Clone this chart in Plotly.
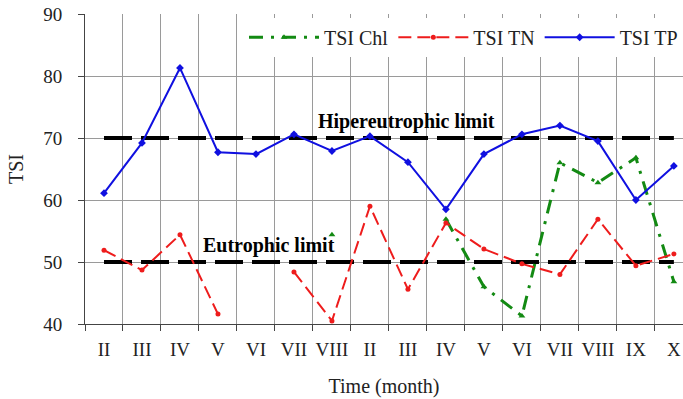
import plotly.graph_objects as go

months = ["II", "III", "IV", "V", "VI", "VII", "VIII",
          "II", "III", "IV", "V", "VI", "VII", "VIII", "IX", "X"]
tsi_chl = [None, None, None, None, None, None, 54.4,
           None, None, 56.9, 46.0, 41.3, 66.0, 62.8, 66.8, 46.8]
tsi_tn = [51.9, 48.7, 54.4, 41.6, None, 48.4, 40.5,
          59.0, 45.6, 56.3, 52.1, 49.7, 48.0, 56.9, 49.4, 51.3]
tsi_tp = [61.1, 69.2, 81.3, 67.7, 67.4, 70.6, 67.9,
          70.3, 66.1, 58.5, 67.4, 70.6, 72.0, 69.5, 60.0, 65.5]
hiper_limit = 70
eutro_limit = 50
y_ticks = [40, 50, 60, 70, 80, 90]

xi = list(range(len(months)))
bounds = [i - 0.5 for i in xi]
FONT = "Liberation Serif"

fig = go.Figure()

# limit lines
for val in (hiper_limit, eutro_limit):
    fig.add_trace(go.Scatter(
        x=[xi[0], xi[-1]], y=[val, val], mode="lines",
        line=dict(color="black", width=4, dash="28px,9px"),
        showlegend=False, hoverinfo="skip"))

fig.add_trace(go.Scatter(
    x=xi, y=tsi_chl, name="TSI Chl", mode="lines+markers",
    line=dict(color="#138a13", width=3, dash="14px,8px,3px,8px"),
    marker=dict(symbol="triangle-up", size=6, color="#138a13")))
fig.add_trace(go.Scatter(
    x=xi, y=tsi_tn, name="TSI TN", mode="lines+markers",
    line=dict(color="#ee1c1c", width=2, dash="13px,6px"),
    marker=dict(symbol="circle", size=5, color="#ee1c1c")))
fig.add_trace(go.Scatter(
    x=xi, y=tsi_tp, name="TSI TP", mode="lines+markers",
    line=dict(color="#1010e0", width=2),
    marker=dict(symbol="diamond", size=6, color="#1010e0")))

fig.add_annotation(x=7.97, y=hiper_limit + 2.6, text="<b>Hipereutrophic limit</b>",
                   showarrow=False, font=dict(family=FONT, size=20, color="black"))
fig.add_annotation(x=4.34, y=eutro_limit + 2.6, text="<b>Eutrophic limit</b>",
                   showarrow=False, font=dict(family=FONT, size=20, color="black"))

fig.update_layout(
    width=683, height=399,
    margin=dict(l=85, r=0, t=14, b=75),
    paper_bgcolor="white", plot_bgcolor="white",
    font=dict(family=FONT, size=19, color="#222"),
    legend=dict(orientation="h", x=1, xanchor="right", y=0.925, yanchor="middle",
                bgcolor="white", font=dict(family=FONT, size=20, color="#222"),
                itemwidth=70, tracegroupgap=0),
    xaxis=dict(
        range=[-0.5, 15.24], tickmode="array", tickvals=xi, ticktext=months,
        showgrid=False, ticks="", showline=True, linecolor="#444", linewidth=1,
        zeroline=False, ticklabelstandoff=8,
        title=dict(text="Time (month)", standoff=20,
                   font=dict(family=FONT, size=20)),
        minor=dict(tickmode="array", tickvals=bounds, showgrid=True,
                   gridcolor="#9a9a9a", gridwidth=1, ticks="outside",
                   ticklen=6, tickcolor="#444")),
    yaxis=dict(
        range=[40, 90], tickmode="array", tickvals=y_ticks,
        showgrid=True, gridcolor="#9a9a9a", gridwidth=1,
        ticks="outside", ticklen=6, tickcolor="#444",
        showline=True, linecolor="#444", linewidth=1, zeroline=False,
        ticklabelstandoff=12,
        title=dict(text="TSI", standoff=14, font=dict(family=FONT, size=20))),
)

fig.write_html("out.html")
